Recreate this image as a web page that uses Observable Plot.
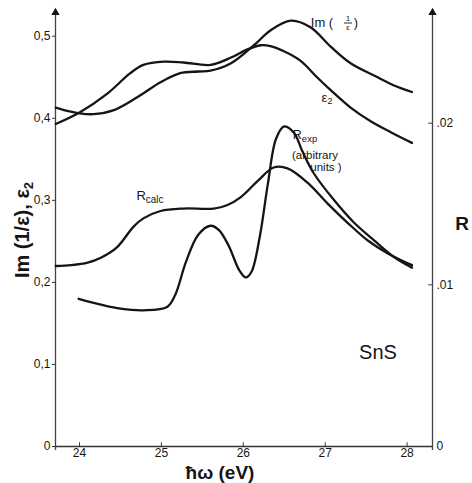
<!DOCTYPE html>
<html><head><meta charset="utf-8">
<script src="https://cdn.jsdelivr.net/npm/d3@7"></script>
<script src="https://cdn.jsdelivr.net/npm/@observablehq/plot@0.6"></script>
<style>body{margin:0;background:#fff}</style>
</head><body><div id="chart"></div>
<script>
// Photon energy (eV) and values (left-axis units)
const energyIm = [23.71, 23.85, 24.0, 24.17, 24.42, 24.71, 24.99, 25.23, 25.45, 25.6, 25.85, 26.13, 26.33, 26.58, 26.82, 27.07, 27.31, 27.64, 27.84, 28.06];
const valuesIm = [0.413, 0.409, 0.406, 0.405, 0.41, 0.426, 0.444, 0.455, 0.457, 0.458, 0.467, 0.489, 0.507, 0.519, 0.511, 0.487, 0.467, 0.45, 0.44, 0.432];

const energyEps2 = [23.71, 24.0, 24.34, 24.62, 24.78, 25.03, 25.27, 25.6, 25.85, 26.05, 26.21, 26.33, 26.49, 26.7, 26.9, 27.07, 27.31, 27.56, 27.8, 28.06];
const valuesEps2 = [0.393, 0.407, 0.430, 0.455, 0.465, 0.469, 0.468, 0.465, 0.474, 0.484, 0.489, 0.488, 0.482, 0.47, 0.45, 0.434, 0.413, 0.396, 0.383, 0.370];

const energyRcalc = [23.71, 23.9, 24.1, 24.26, 24.46, 24.66, 24.78, 24.99, 25.27, 25.64, 25.8, 25.97, 26.18, 26.37, 26.54, 26.79, 27.03, 27.28, 27.52, 27.77, 28.06];
const valuesRcalc = [0.220, 0.221, 0.224, 0.230, 0.243, 0.268, 0.278, 0.287, 0.290, 0.290, 0.294, 0.304, 0.324, 0.340, 0.339, 0.321, 0.296, 0.272, 0.251, 0.235, 0.221];

const energyRexp = [23.99, 24.26, 24.5, 24.78, 25.07, 25.17, 25.3, 25.45, 25.6, 25.7, 25.82, 25.95, 26.03, 26.1, 26.2, 26.3, 26.4, 26.5, 26.62, 26.72, 26.86, 27.11, 27.35, 27.6, 27.84, 28.06];
const valuesRexp = [0.180, 0.173, 0.168, 0.166, 0.170, 0.185, 0.225, 0.258, 0.269, 0.264, 0.245, 0.215, 0.206, 0.213, 0.255, 0.32, 0.375, 0.390, 0.382, 0.36, 0.333, 0.300, 0.273, 0.251, 0.231, 0.218];

const xTicks = [24, 25, 26, 27, 28];
const yTicks = [0, 0.1, 0.2, 0.3, 0.4, 0.5];
const yTickLabels = ["0", "0,1", "0,2", "0,3", "0,4", "0,5"];
const rTicks = [0, 0.01, 0.02];
const rTickLabels = ["0", ".01", ".02"];
const rScale = 19.7; // left-axis units per unit of R

const xDomain = [23.707, 28.31];
const yDomain = [0, 0.535];

const toRows = (name, xs, ys) => xs.map((x, i) => ({name, x, y: ys[i]}));
const curves = [
  ...toRows("im", energyIm, valuesIm),
  ...toRows("eps2", energyEps2, valuesEps2),
  ...toRows("rcalc", energyRcalc, valuesRcalc),
  ...toRows("rexp", energyRexp, valuesRexp)
];

const yLab = new Map(yTicks.map((t, i) => [t, yTickLabels[i]]));
const rLeft = rTicks.map(r => r * rScale);
const rLab = new Map(rLeft.map((t, i) => [t, rTickLabels[i]]));

const ink = "#151515";
const chart = Plot.plot({
  width: 472, height: 483,
  marginLeft: 55, marginRight: 40, marginTop: 7, marginBottom: 37,
  x: {domain: xDomain},
  y: {domain: yDomain},
  style: {fontFamily: "'Liberation Sans', Arial, sans-serif", fontSize: "12px", color: ink, background: "#fff"},
  marks: [
    Plot.ruleX(xDomain, {y1: 0, y2: yDomain[1], dy: 4, stroke: "#444", strokeWidth: 1.3}),
    Plot.ruleY([0], {stroke: "#333", strokeWidth: 1.3}),
    Plot.dot(xDomain, {x: d => d, y: yDomain[1], dy: 5, symbol: "triangle", r: 3.1, fill: ink, stroke: "none"}),
    Plot.axisY(yTicks, {anchor: "left", tickSize: 3, tickPadding: 2, tickFormat: d => yLab.get(d), label: null, stroke: "#333"}),
    Plot.axisX(xTicks, {tickSize: 0, tickPadding: 2, tickFormat: d => String(d), label: null}),
    Plot.ruleX(xTicks, {y1: 0, y2: 0.0045, stroke: "#333"}),
    Plot.axisY(rLeft, {anchor: "right", tickSize: 0, tickPadding: 4, tickFormat: d => rLab.get(d), label: null}),
    Plot.ruleY(rLeft.slice(1), {x1: xDomain[1] - 0.045, x2: xDomain[1], stroke: "#333"}),
    Plot.line(curves, {x: "x", y: "y", z: "name", curve: "catmull-rom", stroke: ink, strokeWidth: 2.3, strokeLinejoin: "round", strokeLinecap: "round"})
  ]
});
document.getElementById("chart").appendChild(chart);

const svg = d3.select(chart);
const g = svg.append("g").attr("fill", ink).attr("font-family", "'Liberation Sans', Arial, sans-serif");

// Left axis title
const yt = g.append("text").attr("transform", "translate(29,230) rotate(-90)")
  .attr("text-anchor", "middle").attr("font-size", 20).attr("font-weight", "bold");
yt.append("tspan").text("Im (1/ε), ε");
yt.append("tspan").attr("font-size", 13).attr("dy", 4).text("2");

// Right axis title
g.append("text").attr("x", 462).attr("y", 230).attr("text-anchor", "middle")
  .attr("font-size", 19).attr("font-weight", "bold").text("R");

// X axis title
g.append("text").attr("x", 220).attr("y", 479).attr("text-anchor", "middle")
  .attr("font-size", 19).attr("font-weight", "bold").text("ħω (eV)");

// Im(1/ε) label with stacked fraction
g.append("text").attr("x", 322).attr("y", 27).attr("font-size", 13).text("Im (");
g.append("text").attr("x", 348).attr("y", 21).attr("font-size", 8).attr("text-anchor", "middle").text("1");
g.append("line").attr("x1", 344).attr("x2", 352).attr("y1", 23).attr("y2", 23).attr("stroke", ink).attr("stroke-width", 0.9);
g.append("text").attr("x", 348).attr("y", 30).attr("font-size", 8).attr("text-anchor", "middle").text("ε");
g.append("text").attr("x", 356).attr("y", 27).attr("font-size", 13).text(")");

// ε2 label
const e2 = g.append("text").attr("x", 327).attr("y", 102).attr("font-size", 13);
e2.append("tspan").text("ε");
e2.append("tspan").attr("font-size", 9).attr("dy", 2).text("2");

// R_exp label
const rx = g.append("text").attr("x", 305).attr("y", 139).attr("font-size", 12.5);
rx.append("tspan").text("R");
rx.append("tspan").attr("font-size", 9.5).attr("dy", 3).text("exp");
g.append("text").attr("x", 315).attr("y", 159).attr("font-size", 11.5).text("(arbitrary");
g.append("text").attr("x", 326).attr("y", 171).attr("font-size", 11.5).text("units )");

// R_calc label
const rc = g.append("text").attr("x", 150).attr("y", 200).attr("font-size", 13);
rc.append("tspan").text("R");
rc.append("tspan").attr("font-size", 10).attr("dy", 3).text("calc");

// Sample label
g.append("text").attr("x", 378).attr("y", 359).attr("text-anchor", "middle")
  .attr("font-size", 20).text("SnS");
</script>
</body></html>
